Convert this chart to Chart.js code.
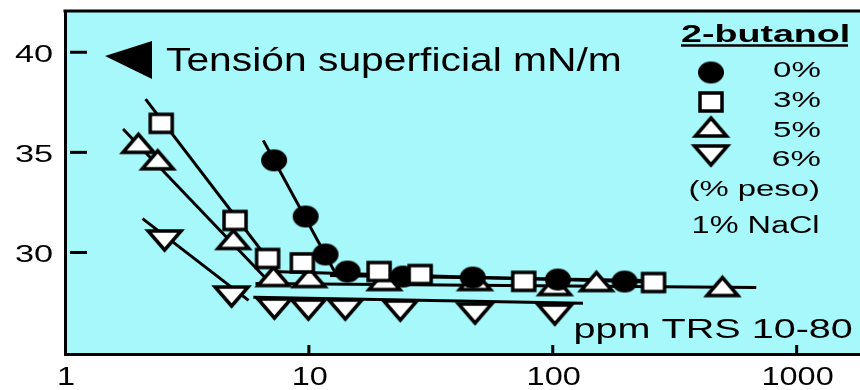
<!DOCTYPE html>
<html>
<head>
<meta charset="utf-8">
<script src="https://cdn.jsdelivr.net/npm/chart.js@4.4.1/dist/chart.umd.min.js"></script>
<style>
  html, body { margin: 0; padding: 0; background: #fff; overflow: hidden; }
  #wrap { width: 880px; height: 390px; }
</style>
</head>
<body>
<div id="wrap"><canvas id="tensionChart" width="880" height="390"></canvas></div>
<script>
// ppm TRS 10-80 vs tension superficial (mN/m), 1% NaCl
var xTicks = [1, 10, 100, 1000];
var yTicks = [30, 35, 40];

// 2-butanol 0%
var conc0 = [7.2, 9.7, 11.7, 14.4, 24.3, 47, 105, 197];
var ift0  = [34.6, 31.8, 29.9, 29.05, 28.8, 28.75, 28.65, 28.55];
// 2-butanol 3%
var conc3 = [2.48, 4.98, 6.77, 9.4, 19.4, 28.6, 76, 259];
var ift3  = [36.45, 31.6, 29.7, 29.48, 29.05, 28.9, 28.56, 28.5];
// 2-butanol 5%
var conc5 = [2.0, 2.4, 4.9, 7.16, 10.05, 20.4, 48, 102, 151, 496];
var ift5  = [35.45, 34.63, 30.65, 28.8, 28.75, 28.6, 28.6, 28.35, 28.55, 28.3];
// 2-butanol 6%
var conc6 = [2.56, 4.82, 7.22, 9.95, 14.1, 23.7, 48, 102];
var ift6  = [30.6, 27.8, 27.2, 27.15, 27.15, 27.1, 26.95, 26.9];

// hand drawn fit lines (steep part, then plateau)
var steep0X = [6.5, 12.8],  steep0Y = [35.6, 29.0];
var flat0X  = [12.2, 249],  flat0Y  = [28.85, 28.6];
var steep3X = [2.14, 7.43], steep3Y = [37.66, 29.05];
var flat3X  = [6.96, 287],  flat3Y  = [29.05, 28.5];
var steep5X = [1.73, 6.96], steep5Y = [36.17, 28.46];
var flat5X  = [6.04, 683],  flat5Y  = [28.45, 28.25];
var steep6X = [2.08, 5.66], steep6Y = [31.69, 27.61];
var flat6X  = [5.92, 133],  flat6Y  = [27.76, 27.46];

var FONT = '"Liberation Sans", Arial, sans-serif';
var CYAN = '#a6f8fb';

function pts(xs, ys) {
    var out = [];
    for (var i = 0; i < xs.length; i++) out.push({x: xs[i], y: ys[i]});
    return out;
}

// marker images, the original symbols are wider than tall
function makeMarker(kind, w, h) {
    var m = 5, lw = 3.5;
    var c = document.createElement('canvas');
    c.width = w + 2 * m; c.height = h + 2 * m;
    var g = c.getContext('2d');
    g.lineWidth = lw; g.strokeStyle = '#000'; g.fillStyle = '#fff';
    g.lineJoin = 'miter';
    if (kind == 'dot') {
        g.fillStyle = '#000';
        g.beginPath(); g.ellipse(m + w / 2, m + h / 2, w / 2, h / 2, 0, 0, Math.PI * 2); g.fill();
    } else if (kind == 'square') {
        g.fillRect(m, m, w, h); g.strokeRect(m, m, w, h);
    } else if (kind == 'up') {
        g.beginPath(); g.moveTo(m + w / 2, m); g.lineTo(m + w, m + h); g.lineTo(m, m + h); g.closePath();
        g.fill(); g.stroke();
    } else {
        g.beginPath(); g.moveTo(m, m); g.lineTo(m + w, m); g.lineTo(m + w / 2, m + h); g.closePath();
        g.fill(); g.stroke();
    }
    return c;
}

var dotImg = makeMarker('dot', 26, 22);
var squareImg = makeMarker('square', 22, 18);
var upImg = makeMarker('up', 31, 18);
var downImg = makeMarker('down', 33, 19);

// text squeezed/stretched to the width it has in the original figure
function fitText(g, text, left, base, font, width) {
    g.save();
    g.font = font;
    var mt = g.measureText(text);
    var ink = mt.actualBoundingBoxRight + mt.actualBoundingBoxLeft;
    var sx = width / ink;
    g.translate(left + mt.actualBoundingBoxLeft * sx, base);
    g.scale(sx, 1);
    g.textAlign = 'left'; g.textBaseline = 'alphabetic';
    g.fillStyle = '#000';
    g.fillText(text, 0, 0);
    g.restore();
}

function scaledText(g, text, cx, base, font, sx) {
    g.save();
    g.font = font;
    var mt = g.measureText(text);
    var ink = mt.actualBoundingBoxRight + mt.actualBoundingBoxLeft;
    fitText(g, text, cx - ink * sx / 2, base, font, ink * sx);
    g.restore();
}

var decor = {
    id: 'decor',
    beforeDraw: function(chart) {
        var g = chart.ctx, a = chart.chartArea;
        g.save();
        g.fillStyle = CYAN;
        g.fillRect(a.left, a.top, a.right - a.left, a.bottom - a.top);
        g.restore();
    },
    afterDraw: function(chart) {
        var g = chart.ctx, a = chart.chartArea;
        var xs = chart.scales.x, ys = chart.scales.y;
        g.save();
        g.strokeStyle = '#000';
        g.fillStyle = '#000';

        // top frame line
        g.lineWidth = 3;
        g.beginPath(); g.moveTo(a.left - 1.5, a.top); g.lineTo(a.right, a.top); g.stroke();

        // inner tick marks + labels
        ys.ticks.forEach(function(t) {
            var y = ys.getPixelForValue(t.value);
            g.beginPath(); g.moveTo(a.left + 5, y); g.lineTo(a.left + 22, y); g.stroke();
            var font = '23px ' + FONT;
            g.font = font;
            fitText(g, String(t.value), 15, y + 9.5, font, 37);
        });
        xs.ticks.forEach(function(t) {
            var x = xs.getPixelForValue(t.value);
            if (t.value > 1) {
                g.beginPath(); g.moveTo(x, a.bottom); g.lineTo(x, a.bottom - 9); g.stroke();
            }
            scaledText(g, String(t.value), x + 1, 385, '25px ' + FONT, 1.3);
        });

        // arrow + quantity
        g.beginPath();
        g.moveTo(105, 56); g.lineTo(152, 41); g.lineTo(152, 79); g.closePath();
        g.fill();
        fitText(g, 'Tensión superficial mN/m', 166, 71, '33px ' + FONT, 454);

        // legend block
        fitText(g, '2-butanol', 681, 42, 'bold 23px ' + FONT, 167);
        g.lineWidth = 2.5;
        g.beginPath(); g.moveTo(681, 45.5); g.lineTo(848, 45.5); g.stroke();
        var rows = [[dotImg, '0%', 72.5, 77], [squareImg, '3%', 102, 107], [upImg, '5%', 127, 136.5], [downImg, '6%', 155.5, 165.5]];
        rows.forEach(function(r) {
            g.drawImage(r[0], 711 - r[0].width / 2, r[2] - r[0].height / 2);
            fitText(g, r[1], 773, r[3], '22px ' + FONT, 47);
        });
        fitText(g, '(% peso)', 690, 196, '22px ' + FONT, 128);
        fitText(g, '1% NaCl', 693, 233, '23px ' + FONT, 125);

        fitText(g, 'ppm TRS 10-80', 575, 338, '28px ' + FONT, 277);
        g.restore();
    }
};

function markerSet(label, xs, ys, img) {
    return {
        label: label,
        data: pts(xs, ys),
        pointStyle: img,
        pointRadius: 10,
        showLine: false
    };
}

function fitLine(xs, ys) {
    return {
        data: pts(xs, ys),
        showLine: true,
        borderColor: '#000',
        borderWidth: 3,
        pointRadius: 0,
        fill: false
    };
}

var ctx = document.getElementById('tensionChart').getContext('2d');
var tensionChart = new Chart(ctx, {
    type: 'scatter',
    data: {
        datasets: [
            markerSet('3%', conc3, ift3, squareImg),
            markerSet('0%', conc0, ift0, dotImg),
            markerSet('5%', conc5, ift5, upImg),
            markerSet('6%', conc6, ift6, downImg),
            fitLine(steep0X, steep0Y), fitLine(flat0X, flat0Y),
            fitLine(steep3X, steep3Y), fitLine(flat3X, flat3Y),
            fitLine(steep5X, steep5Y), fitLine(flat5X, flat5Y),
            fitLine(steep6X, steep6Y), fitLine(flat6X, flat6Y)
        ]
    },
    options: {
        responsive: false,
        animation: false,
        events: [],
        layout: { padding: { top: 9, right: 9, left: 0, bottom: 0 } },
        plugins: { legend: { display: false }, tooltip: { enabled: false } },
        scales: {
            x: {
                type: 'logarithmic',
                min: 1,
                max: 1980,
                grid: { display: false },
                border: { display: true, color: '#000', width: 3 },
                ticks: { display: false },
                afterBuildTicks: function(s) { s.ticks = xTicks.map(function(v) { return {value: v}; }); },
                afterFit: function(s) { s.height = 36; }
            },
            y: {
                min: 24.93,
                max: 42.06,
                grid: { display: false },
                border: { display: true, color: '#000', width: 3 },
                ticks: { display: false },
                afterBuildTicks: function(s) { s.ticks = yTicks.map(function(v) { return {value: v}; }); },
                afterFit: function(s) { s.width = 65; }
            }
        }
    },
    plugins: [decor]
});
</script>
</body>
</html>
